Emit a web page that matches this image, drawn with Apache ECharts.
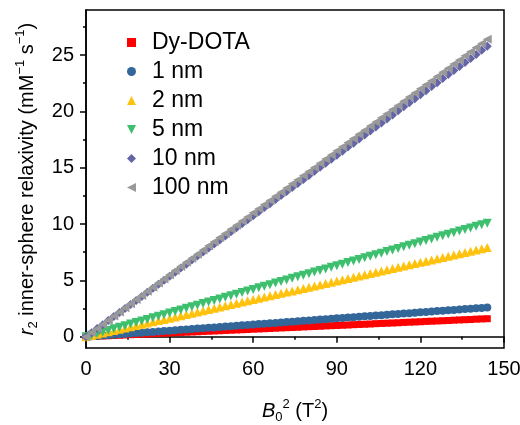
<!DOCTYPE html>
<html>
<head>
<meta charset="utf-8">
<script src="https://cdn.jsdelivr.net/npm/echarts@6/dist/echarts.min.js"></script>
<style>
  html, body { margin: 0; padding: 0; background: #fff; }
  #chart { width: 520px; height: 425px; }
</style>
</head>
<body>
<div id="chart"></div>
<script>
// B0^2 (T^2) sample positions, shared by every series
const fieldSquared = [
  0, 2, 4, 6, 8, 10, 12, 14, 16, 18, 20, 22, 24, 26, 28, 30, 32, 34, 36, 38,
  40, 42, 44, 46, 48, 50, 52, 54, 56, 58, 60, 62, 64, 66, 68, 70, 72, 74, 76, 78,
  80, 82, 84, 86, 88, 90, 92, 94, 96, 98, 100, 102, 104, 106, 108, 110, 112, 114, 116, 118,
  120, 122, 124, 126, 128, 130, 132, 134, 136, 138, 140, 142, 144
]

const dyDota = [
  0, 0.02, 0.04, 0.07, 0.09, 0.11, 0.13, 0.16, 0.18,
  0.2, 0.22, 0.24, 0.27, 0.29, 0.31, 0.33, 0.36, 0.38,
  0.4, 0.42, 0.44, 0.47, 0.49, 0.51, 0.53, 0.56, 0.58,
  0.6, 0.62, 0.64, 0.67, 0.69, 0.71, 0.73, 0.76, 0.78,
  0.8, 0.82, 0.84, 0.87, 0.89, 0.91, 0.93, 0.96, 0.98,
  1.0, 1.02, 1.04, 1.07, 1.09, 1.11, 1.13, 1.16, 1.18,
  1.2, 1.22, 1.24, 1.27, 1.29, 1.31, 1.33, 1.36, 1.38,
  1.4, 1.42, 1.44, 1.47, 1.49, 1.51, 1.53, 1.56, 1.58,
  1.6
]

const nm1 = [
  0, 0.04, 0.07, 0.11, 0.14, 0.18, 0.22, 0.25, 0.29,
  0.33, 0.36, 0.4, 0.43, 0.47, 0.51, 0.54, 0.58, 0.61,
  0.65, 0.69, 0.72, 0.76, 0.79, 0.83, 0.87, 0.9, 0.94,
  0.98, 1.01, 1.05, 1.08, 1.12, 1.16, 1.19, 1.23, 1.26,
  1.3, 1.34, 1.37, 1.41, 1.44, 1.48, 1.52, 1.55, 1.59,
  1.63, 1.66, 1.7, 1.73, 1.77, 1.81, 1.84, 1.88, 1.91,
  1.95, 1.99, 2.02, 2.06, 2.09, 2.13, 2.17, 2.2, 2.24,
  2.28, 2.31, 2.35, 2.38, 2.42, 2.46, 2.49, 2.53, 2.56,
  2.6
]

const nm2 = [
  0, 0.11, 0.22, 0.33, 0.44, 0.55, 0.66, 0.77, 0.88,
  0.99, 1.1, 1.21, 1.32, 1.43, 1.54, 1.65, 1.76, 1.87,
  1.98, 2.09, 2.2, 2.31, 2.42, 2.53, 2.64, 2.75, 2.86,
  2.97, 3.08, 3.19, 3.3, 3.41, 3.52, 3.63, 3.74, 3.85,
  3.96, 4.07, 4.18, 4.29, 4.4, 4.51, 4.62, 4.73, 4.84,
  4.95, 5.06, 5.17, 5.28, 5.39, 5.5, 5.61, 5.72, 5.83,
  5.94, 6.05, 6.16, 6.27, 6.38, 6.49, 6.6, 6.71, 6.82,
  6.93, 7.04, 7.15, 7.26, 7.37, 7.48, 7.59, 7.7, 7.81,
  7.92
]

const nm5 = [
  0, 0.14, 0.28, 0.42, 0.56, 0.7, 0.84, 0.98, 1.12,
  1.26, 1.4, 1.54, 1.68, 1.82, 1.96, 2.1, 2.24, 2.38,
  2.52, 2.66, 2.8, 2.94, 3.08, 3.22, 3.36, 3.5, 3.64,
  3.78, 3.92, 4.06, 4.2, 4.34, 4.48, 4.62, 4.76, 4.9,
  5.04, 5.18, 5.32, 5.46, 5.6, 5.74, 5.88, 6.02, 6.16,
  6.3, 6.44, 6.58, 6.72, 6.86, 7.0, 7.14, 7.28, 7.42,
  7.56, 7.7, 7.84, 7.98, 8.12, 8.26, 8.4, 8.54, 8.68,
  8.82, 8.96, 9.1, 9.24, 9.38, 9.52, 9.66, 9.8, 9.94,
  10.08
]

const nm10 = [
  0, 0.36, 0.72, 1.07, 1.43, 1.79, 2.15, 2.51, 2.86,
  3.22, 3.58, 3.94, 4.3, 4.65, 5.01, 5.37, 5.73, 6.09,
  6.44, 6.8, 7.16, 7.52, 7.88, 8.23, 8.59, 8.95, 9.31,
  9.67, 10.02, 10.38, 10.74, 11.1, 11.46, 11.81, 12.17, 12.53,
  12.89, 13.25, 13.6, 13.96, 14.32, 14.68, 15.04, 15.39, 15.75,
  16.11, 16.47, 16.83, 17.18, 17.54, 17.9, 18.26, 18.62, 18.97,
  19.33, 19.69, 20.05, 20.41, 20.76, 21.12, 21.48, 21.84, 22.2,
  22.55, 22.91, 23.27, 23.63, 23.99, 24.34, 24.7, 25.06, 25.42,
  25.78
]

const nm100 = [
  0, 0.37, 0.73, 1.1, 1.47, 1.83, 2.2, 2.57, 2.93,
  3.3, 3.67, 4.03, 4.4, 4.77, 5.13, 5.5, 5.87, 6.23,
  6.6, 6.97, 7.33, 7.7, 8.07, 8.43, 8.8, 9.17, 9.53,
  9.9, 10.27, 10.63, 11.0, 11.37, 11.73, 12.1, 12.47, 12.83,
  13.2, 13.57, 13.93, 14.3, 14.67, 15.03, 15.4, 15.77, 16.13,
  16.5, 16.87, 17.23, 17.6, 17.97, 18.33, 18.7, 19.07, 19.43,
  19.8, 20.17, 20.53, 20.9, 21.27, 21.63, 22.0, 22.37, 22.73,
  23.1, 23.47, 23.83, 24.2, 24.57, 24.93, 25.3, 25.67, 26.03,
  26.4
]

const yMajorTicks = [0, 5, 10, 15, 20, 25]
const yMinorTicks = [2.5, 7.5, 12.5, 17.5, 22.5, 27.5]

const fontFamily = '"Liberation Sans", Arial, sans-serif'

// legend icons: inverted / left-pointing triangles drawn as paths
const downTriangle = 'path://M0,0L10,0L5,10Z'
const leftTriangle = 'path://M10,0L10,10L0,5Z'

const seriesList = [
  { name: 'Dy-DOTA', values: dyDota, symbol: 'rect', icon: 'rect', size: 7, rotate: 0, color: '#ff0000' },
  { name: '1 nm', values: nm1, symbol: 'circle', icon: 'circle', size: 8, rotate: 0, color: '#336699' },
  { name: '2 nm', values: nm2, symbol: 'triangle', icon: 'triangle', size: 9, rotate: 0, color: '#ffc20e' },
  { name: '5 nm', values: nm5, symbol: 'triangle', icon: downTriangle, size: 9, rotate: 180, color: '#3dbf6e' },
  { name: '10 nm', values: nm10, symbol: 'diamond', icon: 'diamond', size: 9, rotate: 0, color: '#6464a8' },
  { name: '100 nm', values: nm100, symbol: 'triangle', icon: leftTriangle, size: 9, rotate: 90, color: '#999999' }
]

const toPoints = (values) => values.map((v, i) => [fieldSquared[i], v])

const richText = {
  i: { fontStyle: 'italic', fontSize: 20, fontFamily, color: '#000' },
  sub: { fontSize: 13, verticalAlign: 'bottom', lineHeight: 13, fontFamily, color: '#000' },
  sup: { fontSize: 13, verticalAlign: 'top', lineHeight: 13, fontFamily, color: '#000' }
}

const chart = echarts.init(document.getElementById('chart'))

chart.setOption({
  animation: false,
  backgroundColor: '#fff',
  textStyle: { fontFamily },
  grid: {
    left: 86,
    right: 16,
    top: 10,
    bottom: 77,
    containLabel: false,
    outerBoundsMode: 'none',
    show: true,
    borderColor: '#000',
    borderWidth: 1.5
  },
  legend: {
    orient: 'vertical',
    left: 122,
    top: 26,
    itemWidth: 9,
    itemHeight: 9,
    itemGap: 6,
    symbolRotate: 0,
    textStyle: { fontSize: 23, lineHeight: 22, color: '#000', fontFamily, padding: [0, 0, 0, 11] },
    data: seriesList.map(s => ({ name: s.name, icon: s.icon }))
  },
  xAxis: {
    type: 'value',
    min: 0,
    max: 150,
    interval: 30,
    splitLine: { show: false },
    axisLine: { lineStyle: { color: '#000', width: 1.5 } },
    axisTick: { length: 6, lineStyle: { color: '#000', width: 1.5 } },
    minorTick: { show: true, splitNumber: 2, length: 3, lineStyle: { color: '#000', width: 1.5 } },
    axisLabel: { fontSize: 20, color: '#000', margin: 11, fontFamily },
    name: '{i|B}{sub|0}{sup|2} (T{sup|2})',
    nameLocation: 'middle',
    nameGap: 50,
    nameTextStyle: { fontSize: 20, color: '#000', fontFamily, lineHeight: 26, rich: richText }
  },
  yAxis: [
    {
      type: 'value',
      min: -1,
      max: 29,
      splitLine: { show: false },
      axisLine: { lineStyle: { color: '#000', width: 1.5 } },
      axisTick: { length: 6, customValues: yMajorTicks, lineStyle: { color: '#000', width: 1.5 } },
      axisLabel: { fontSize: 20, color: '#000', margin: 12, customValues: yMajorTicks, fontFamily },
      name: '{i|r}{sub|2} inner-sphere relaxivity (mM{sup|\u22121} s{sup|\u22121})',
      nameLocation: 'middle',
      nameGap: 46,
      nameTextStyle: { fontSize: 20, color: '#000', fontFamily, lineHeight: 26, rich: richText }
    },
    {
      // minor ticks only
      type: 'value',
      min: -1,
      max: 29,
      position: 'left',
      splitLine: { show: false },
      axisLine: { show: false },
      axisTick: { length: 3, customValues: yMinorTicks, lineStyle: { color: '#000', width: 1.5 } },
      axisLabel: { show: false, customValues: yMinorTicks }
    }
  ],
  series: seriesList.map(s => ({
    name: s.name,
    type: 'scatter',
    symbol: s.symbol,
    symbolSize: s.size,
    symbolRotate: s.rotate,
    itemStyle: { color: s.color, opacity: 1 },
    data: toPoints(s.values)
  }))
})
</script>
</body>
</html>
